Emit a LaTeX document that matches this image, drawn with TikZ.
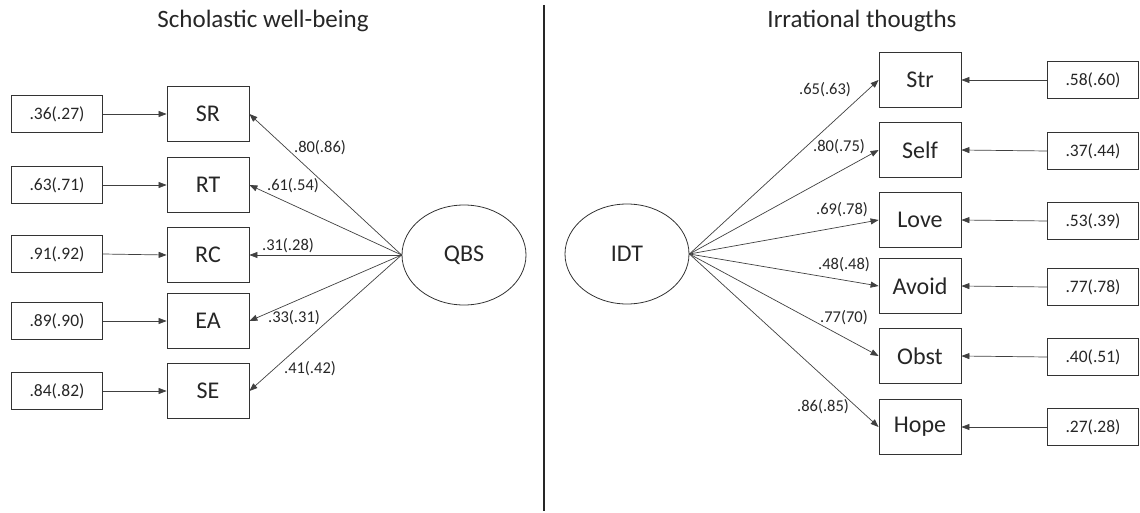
\documentclass[tikz,border=0pt]{standalone}
\usepackage{fontspec}
\setmainfont{Carlito}
\usetikzlibrary{arrows.meta,shapes.geometric}
\begin{document}
\begin{tikzpicture}[x=1pt,y=-1pt,
  every node/.style={text=black!85},
  ind/.style={draw=black!80, line width=0.8pt, minimum width=82pt, minimum height=55pt, inner sep=0pt, font=\fontsize{24}{28}\selectfont},
  err/.style={draw=black!80, line width=0.8pt, minimum width=91pt, minimum height=37pt, inner sep=0pt, font=\fontsize{17.5}{20}\selectfont},
  lat/.style={draw=black!80, line width=0.8pt, ellipse, minimum width=124pt, minimum height=100pt, inner sep=0pt, font=\fontsize{24}{28}\selectfont},
  coef/.style={font=\fontsize{16.5}{19}\selectfont, inner sep=1pt},
  arr/.style={draw=black!75, line width=0.7pt, -{Triangle[length=8pt,width=6pt]}},
  ttl/.style={font=\fontsize{25}{29}\selectfont}
]
\useasboundingbox (0,0) rectangle (1140,513);

% titles and divider
\node[ttl] (t1) at (263,21) {Scholastic well-being};
\node[ttl] (t2) at (862,21) {Irrational thougths};
\coordinate (dtop) at (544,5);
\coordinate (dbot) at (544,511);
\draw[line width=2.6pt, black!85] (dtop) -- (dbot);

% left side
\node[lat] (QBS) at (464,255) {QBS};
\node[ind] (SR) at (208,114) {SR};
\node[ind] (RT) at (208,185) {RT};
\node[ind] (RC) at (208,255) {RC};
\node[ind] (EA) at (208,321) {EA};
\node[ind] (SE) at (208,391) {SE};
\node[err] (eSR) at (57,114) {.36(.27)};
\node[err] (eRT) at (57,185) {.63(.71)};
\node[err] (eRC) at (57,254) {.91(.92)};
\node[err] (eEA) at (57,321) {.89(.90)};
\node[err] (eSE) at (57,391) {.84(.82)};
\foreach \n in {SR,RT,RC,EA,SE}{
  \draw[arr] (e\n.east) -- (\n.west);
  \draw[arr] (QBS.west) -- (\n.east);
}
\node[coef] (cSR) at (320,148) {.80(.86)};
\node[coef] (cRT) at (293,186) {.61(.54)};
\node[coef] (cRC) at (288,246) {.31(.28)};
\node[coef] (cEA) at (294,318) {.33(.31)};
\node[coef] (cSE) at (310,369) {.41(.42)};

% right side
\node[lat] (IDT) at (627,254) {IDT};
\node[ind] (Str) at (920,80) {Str};
\node[ind] (Self) at (920,150) {Self};
\node[ind] (Love) at (920,220) {Love};
\node[ind] (Avoid) at (920,286) {Avoid};
\node[ind] (Obst) at (920,356) {Obst};
\node[ind] (Hope) at (920,427) {Hope};
\node[err] (eStr) at (1093,80) {.58(.60)};
\node[err] (eSelf) at (1093,151) {.37(.44)};
\node[err] (eLove) at (1093,221) {.53(.39)};
\node[err] (eAvoid) at (1093,287) {.77(.78)};
\node[err] (eObst) at (1093,357) {.40(.51)};
\node[err] (eHope) at (1093,427) {.27(.28)};
\foreach \n in {Str,Self,Love,Avoid,Obst,Hope}{
  \draw[arr] (e\n.west) -- (\n.west -| \n.east);
  \draw[arr] (IDT.east) -- (\n.west);
}
\node[coef] (cStr) at (825,90) {.65(.63)};
\node[coef] (cSelf) at (839,147) {.80(.75)};
\node[coef] (cLove) at (842,210) {.69(.78)};
\node[coef] (cAvoid) at (844,265) {.48(.48)};
\node[coef] (cObst) at (844,318) {.77(70)};
\node[coef] (cHope) at (823,407) {.86(.85)};
\end{tikzpicture}
\end{document}
